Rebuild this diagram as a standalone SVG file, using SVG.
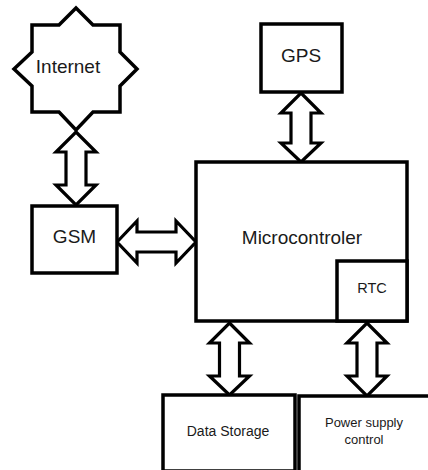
<svg xmlns="http://www.w3.org/2000/svg" width="428" height="470" viewBox="0 0 428 470">
  <style>
    .box { fill: #fff; stroke: #000; stroke-width: 3.5; }
    .arrow { fill: #fff; stroke: #000; stroke-width: 3.2; stroke-linejoin: miter; stroke-miterlimit: 10; }
    text { font-family: "Liberation Sans", Arial, sans-serif; fill: #1a1a1a; text-anchor: middle; }
    .lg { font-size: 19px; }
    .md { font-size: 14.5px; }
    .sm { font-size: 14px; }
    .xs { font-size: 13px; }
  </style>
  <rect width="428" height="470" fill="#fff"/>

  <!-- bidirectional block arrows -->
  <g id="connectors">
    <polygon class="arrow" points="76,132 96,152 86,152 86,185 96,185 76,205 56,185 66,185 66,152 56,152"/>
    <polygon class="arrow" points="301,93 321,113 311,113 311,143 321,143 301,162 281,143 291,143 291,113 281,113"/>
    <polygon class="arrow" points="117,242 137,221 137,232 176,232 176,221 196,242 176,263 176,252 137,252 137,263"/>
    <polygon class="arrow" points="229.5,323 249.5,343 239.5,343 239.5,376 249.5,376 229.5,395 209.5,376 219.5,376 219.5,343 209.5,343"/>
    <polygon class="arrow" points="367,323 387,343 377,343 377,376 387,376 367,396 347,376 357,376 357,343 347,343"/>
  </g>

  <g id="internet">
    <polygon class="box" points="76,8 93,25 120,25 120,52 137,69 120,86 120,112 93,112 76,130 59,112 32,112 32,86 14,69 32,52 32,25 59,25"/>
    <text class="lg" x="68" y="73">Internet</text>
  </g>

  <g id="gsm">
    <rect class="box" x="32" y="206" width="85" height="67"/>
    <text class="lg" x="74.5" y="243">GSM</text>
  </g>

  <g id="gps">
    <rect class="box" x="261" y="24" width="81" height="68"/>
    <text class="lg" x="301" y="62">GPS</text>
  </g>

  <g id="microcontroller">
    <rect class="box" x="196" y="162" width="211" height="159"/>
    <text class="lg" x="302" y="244">Microcontroler</text>
  </g>

  <g id="rtc">
    <rect class="box" x="337" y="261" width="70" height="60"/>
    <text class="md" x="372" y="293">RTC</text>
  </g>

  <g id="data-storage">
    <rect class="box" x="163" y="395" width="132" height="76"/>
    <text class="sm" x="228" y="436">Data Storage</text>
  </g>

  <g id="power-supply">
    <rect class="box" x="299" y="396" width="135" height="76"/>
    <text class="xs" x="364" y="427">Power supply</text>
    <text class="xs" x="364" y="444">control</text>
  </g>
</svg>
